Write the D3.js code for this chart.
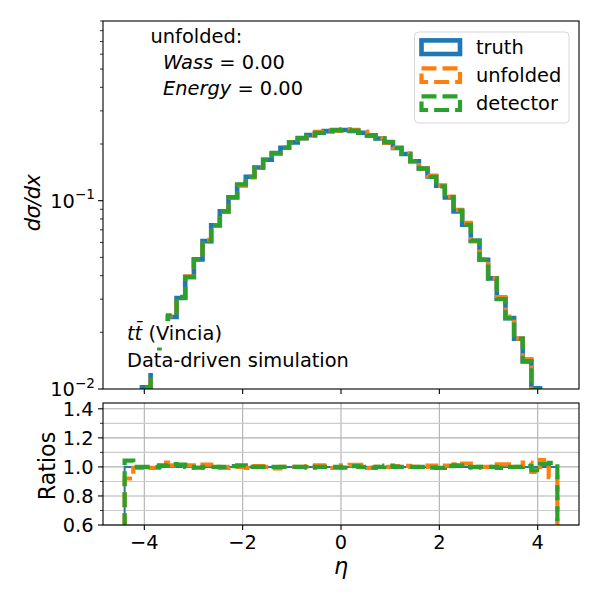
<!DOCTYPE html>
<html>
<head>
<meta charset="utf-8">
<script src="https://cdnjs.cloudflare.com/ajax/libs/d3/7.8.5/d3.min.js"></script>
<style>
	body { margin: 0; background: #fff; }
	svg { font-family: 'DejaVu Sans', sans-serif; }
</style>
</head>
<body>
<script>
// 50 equal bins on [-4.4, 4.4]
var nBins = 50;
var binEdges = d3.range(nBins + 1).map(i => -4.4 + i * 8.8 / nBins);

var truth = [
	0.0046, 0.0072, 0.0102, 0.0140, 0.0185, 0.0241, 0.0304, 0.0393, 0.0488, 0.0610,
	0.0740, 0.0878, 0.1040, 0.1210, 0.1340, 0.1500, 0.1650, 0.1790, 0.1910, 0.2040,
	0.2150, 0.2230, 0.2295, 0.2340, 0.2370, 0.2375, 0.2345, 0.2295, 0.2225, 0.2140,
	0.2035, 0.1905, 0.1770, 0.1620, 0.1480, 0.1345, 0.1200, 0.1040, 0.0878, 0.0745,
	0.0613, 0.0486, 0.0387, 0.0302, 0.0238, 0.0185, 0.0140, 0.0101, 0.0071, 0.0047
];
var unfolded = [
	0.004232, 0.00715, 0.01013, 0.01390, 0.01906, 0.02434, 0.03070, 0.03969, 0.04856, 0.06192,
	0.0740, 0.08719, 0.1040, 0.1210, 0.1331, 0.1508, 0.1650, 0.1772, 0.1910, 0.2040,
	0.2150, 0.2241, 0.2318, 0.2363, 0.2353, 0.2399, 0.2378, 0.2327, 0.2209, 0.2140,
	0.2035, 0.1915, 0.1782, 0.1620, 0.1480, 0.1358, 0.1200, 0.1050, 0.08938, 0.07621,
	0.06087, 0.0486, 0.0387, 0.03074, 0.02423, 0.0185, 0.01442, 0.009757, 0.007427, 0.004371
];
var detector = [
	0.004802, 0.0072, 0.0102, 0.0140, 0.01869, 0.02458, 0.03086, 0.0393, 0.04856, 0.0610,
	0.0740, 0.0878, 0.1045, 0.1222, 0.1340, 0.1500, 0.1650, 0.1790, 0.1910, 0.2040,
	0.2150, 0.2219, 0.2295, 0.2340, 0.2370, 0.2363, 0.2357, 0.2295, 0.2214, 0.2140,
	0.2055, 0.1905, 0.1770, 0.1620, 0.1480, 0.1338, 0.1192, 0.1045, 0.08868, 0.0745,
	0.0613, 0.0486, 0.0387, 0.02999, 0.0238, 0.0185, 0.01407, 0.009868, 0.007242, 0.004832
];

var seriesNames = ["truth", "unfolded", "detector"];
var xTicks = [-4, -2, 0, 2, 4];
var logMajor = [0.01, 0.1];
var logMinor = [0.02, 0.03, 0.04, 0.05, 0.06, 0.07, 0.08, 0.09, 0.2, 0.3, 0.4, 0.5, 0.6, 0.7, 0.8, 0.9];
var ratioMajor = [0.6, 0.8, 1.0, 1.2, 1.4];
var ratioMinor = [0.7, 0.9, 1.1, 1.3];

var colors = { truth: "#1f77b4", unfolded: "#ff7f0e", detector: "#2ca02c" };
var dash = "15,6";

var svg = d3.select("body").append("svg")
	.attr("width", 600)
	.attr("height", 600);

var left = 103, right = 579;
var x = d3.scaleLinear().domain([-4.84, 4.84]).range([left, right]);
var y = d3.scaleLog().domain([0.01, 0.9]).range([389, 21]);
var yr = d3.scaleLinear().domain([0.6, 1.44]).range([525, 403]);

var defs = svg.append("defs");
defs.append("clipPath").attr("id", "clipMain")
	.append("rect").attr("x", left).attr("y", 21).attr("width", right - left).attr("height", 368);
defs.append("clipPath").attr("id", "clipRatio")
	.append("rect").attr("x", left).attr("y", 403).attr("width", right - left).attr("height", 122);

// step path like histtype='step', dropping to the floor at both ends
function stepPoints(vals, floor) {
	var pts = [[binEdges[0], floor]];
	vals.forEach((v, i) => {
		pts.push([binEdges[i], v]);
		pts.push([binEdges[i + 1], v]);
	});
	pts.push([binEdges[nBins], floor]);
	return pts;
}

// ---------- main panel ----------
var gMain = svg.append("g");
var mainLine = d3.line().x(d => x(d[0])).y(d => y(d[1]));
var main = gMain.append("g").attr("clip-path", "url(#clipMain)");

var seriesData = { truth: truth, unfolded: unfolded, detector: detector };
seriesNames.forEach(name => {
	main.append("path")
		.attr("d", mainLine(stepPoints(seriesData[name], 0.001)))
		.attr("fill", "none")
		.attr("stroke", colors[name])
		.attr("stroke-width", name == "truth" ? 4.6 : 4.2)
		.attr("stroke-dasharray", name == "truth" ? null : dash)
		.attr("stroke-linejoin", "miter");
});

// white boxes behind the sample labels
var labelBoxes = [
	{ y0: 321, y1: 347.5, w: 101 },
	{ y0: 350.5, y1: 373, w: 228 }
];
gMain.selectAll("rect.lbox").data(labelBoxes).enter().append("rect")
	.attr("class", "lbox")
	.attr("x", 124).attr("width", d => d.w)
	.attr("y", d => d.y0).attr("height", d => d.y1 - d.y0)
	.attr("fill", "#fff");

// axes frame
gMain.append("rect")
	.attr("x", left).attr("y", 21).attr("width", right - left).attr("height", 368)
	.attr("fill", "none").attr("stroke", "#000").attr("stroke-width", 1.1);

gMain.selectAll("line.xt").data(xTicks).enter().append("line")
	.attr("x1", d => x(d)).attr("x2", d => x(d))
	.attr("y1", 389).attr("y2", 394)
	.attr("stroke", "#000").attr("stroke-width", 1.1);

gMain.selectAll("line.ymaj").data(logMajor).enter().append("line")
	.attr("x1", left - 5).attr("x2", left)
	.attr("y1", d => y(d)).attr("y2", d => y(d))
	.attr("stroke", "#000").attr("stroke-width", 1.1);
gMain.selectAll("line.ymin").data(logMinor).enter().append("line")
	.attr("x1", left - 3).attr("x2", left)
	.attr("y1", d => y(d)).attr("y2", d => y(d))
	.attr("stroke", "#000").attr("stroke-width", 0.8);

var yl = gMain.selectAll("text.yl").data(logMajor).enter().append("text")
	.attr("x", 95).attr("y", d => y(d) + 7)
	.attr("text-anchor", "end")
	.attr("font-size", 19.4);
yl.append("tspan").text("10");
yl.append("tspan").attr("dy", -8.5).attr("font-size", 13.6)
	.text(d => "\u2212" + Math.round(-Math.log10(d)));

gMain.append("text")
	.attr("transform", "translate(40,203) rotate(-90)")
	.attr("text-anchor", "middle")
	.attr("font-size", 21)
	.attr("letter-spacing", -0.6)
	.attr("font-style", "italic")
	.text("d\u03c3/dx");

// annotations
gMain.append("text").attr("x", 150.5).attr("y", 43).attr("font-size", 19.4).text("unfolded:");
var t1 = gMain.append("text").attr("x", 163).attr("y", 69).attr("font-size", 19.4);
t1.append("tspan").attr("font-style", "italic").text("Wass");
t1.append("tspan").text(" = 0.00");
var t2 = gMain.append("text").attr("x", 163).attr("y", 95).attr("font-size", 19.4);
t2.append("tspan").attr("font-style", "italic").text("Energy");
t2.append("tspan").text(" = 0.00");

var t3 = gMain.append("text").attr("x", 127).attr("y", 340).attr("font-size", 19.4);
t3.append("tspan").attr("font-style", "italic").text("tt\u0304");
t3.append("tspan").text(" (Vincia)");
gMain.append("text").attr("x", 127).attr("y", 366.7).attr("font-size", 19.4)
	.text("Data-driven simulation");

// legend
var lg = gMain.append("g");
lg.append("rect")
	.attr("x", 414.5).attr("y", 32).attr("width", 154.5).attr("height", 91)
	.attr("rx", 4)
	.attr("fill", "#fff").attr("fill-opacity", 0.8)
	.attr("stroke", "#d6d6d6").attr("stroke-width", 1);
var li = lg.selectAll("g.li").data(seriesNames).enter().append("g")
	.attr("class", "li")
	.attr("transform", (d, i) => "translate(0," + (47.2 + i * 28) + ")");
li.append("rect")
	.attr("x", 421.5).attr("y", -6.8).attr("width", 38.5).attr("height", 13.6)
	.attr("fill", "none")
	.attr("stroke", d => colors[d])
	.attr("stroke-width", d => d == "truth" ? 4.6 : 4.2)
	.attr("stroke-dasharray", d => d == "truth" ? null : dash);
li.append("text")
	.attr("x", 476).attr("y", 7)
	.attr("font-size", 19.4)
	.text(d => d);

// ---------- ratio panel ----------
var gR = svg.append("g");

gR.selectAll("line.gx").data(xTicks).enter().append("line")
	.attr("x1", d => x(d)).attr("x2", d => x(d))
	.attr("y1", 403).attr("y2", 525)
	.attr("stroke", "#b0b0b0").attr("stroke-width", 1.1);
gR.selectAll("line.gmin").data(ratioMinor).enter().append("line")
	.attr("x1", left).attr("x2", right)
	.attr("y1", d => yr(d)).attr("y2", d => yr(d))
	.attr("stroke", "#cccccc").attr("stroke-width", 1.1);
gR.selectAll("line.gmaj").data(ratioMajor).enter().append("line")
	.attr("x1", left).attr("x2", right)
	.attr("y1", d => yr(d)).attr("y2", d => yr(d))
	.attr("stroke", "#b0b0b0").attr("stroke-width", 1.1);

var ratioLine = d3.line().x(d => x(d[0])).y(d => yr(d[1]));
var ratio = gR.append("g").attr("clip-path", "url(#clipRatio)");
seriesNames.forEach(name => {
	var r = seriesData[name].map((v, i) => v / truth[i]);
	ratio.append("path")
		.attr("d", ratioLine(stepPoints(r, 0)))
		.attr("fill", "none")
		.attr("stroke", colors[name])
		.attr("stroke-width", name == "truth" ? 2 : 4.2)
		.attr("stroke-dasharray", name == "truth" ? null : dash);
});

gR.append("rect")
	.attr("x", left).attr("y", 403).attr("width", right - left).attr("height", 122)
	.attr("fill", "none").attr("stroke", "#000").attr("stroke-width", 1.1);

gR.selectAll("line.xt").data(xTicks).enter().append("line")
	.attr("x1", d => x(d)).attr("x2", d => x(d))
	.attr("y1", 525).attr("y2", 530)
	.attr("stroke", "#000").attr("stroke-width", 1.1);
gR.selectAll("text.xl").data(xTicks).enter().append("text")
	.attr("x", d => x(d)).attr("y", 548.5)
	.attr("text-anchor", "middle")
	.attr("font-size", 19.4)
	.text(d => d < 0 ? "\u2212" + (-d) : d);

gR.selectAll("line.yt").data(ratioMajor).enter().append("line")
	.attr("x1", left - 5).attr("x2", left)
	.attr("y1", d => yr(d)).attr("y2", d => yr(d))
	.attr("stroke", "#000").attr("stroke-width", 1.1);
gR.selectAll("line.ym").data(ratioMinor).enter().append("line")
	.attr("x1", left - 3).attr("x2", left)
	.attr("y1", d => yr(d)).attr("y2", d => yr(d))
	.attr("stroke", "#000").attr("stroke-width", 0.8);
gR.selectAll("text.yl").data(ratioMajor).enter().append("text")
	.attr("x", 93.5).attr("y", d => yr(d) + 7)
	.attr("text-anchor", "end")
	.attr("font-size", 19.4)
	.text(d => d.toFixed(1));

gR.append("text")
	.attr("transform", "translate(55,466) rotate(-90)")
	.attr("text-anchor", "middle")
	.attr("font-size", 22.2)
	.text("Ratios");

gR.append("text")
	.attr("x", x(0)).attr("y", 573.5)
	.attr("text-anchor", "middle")
	.attr("font-size", 22.2)
	.attr("font-style", "italic")
	.text("\u03b7");
</script>
</body>
</html>
